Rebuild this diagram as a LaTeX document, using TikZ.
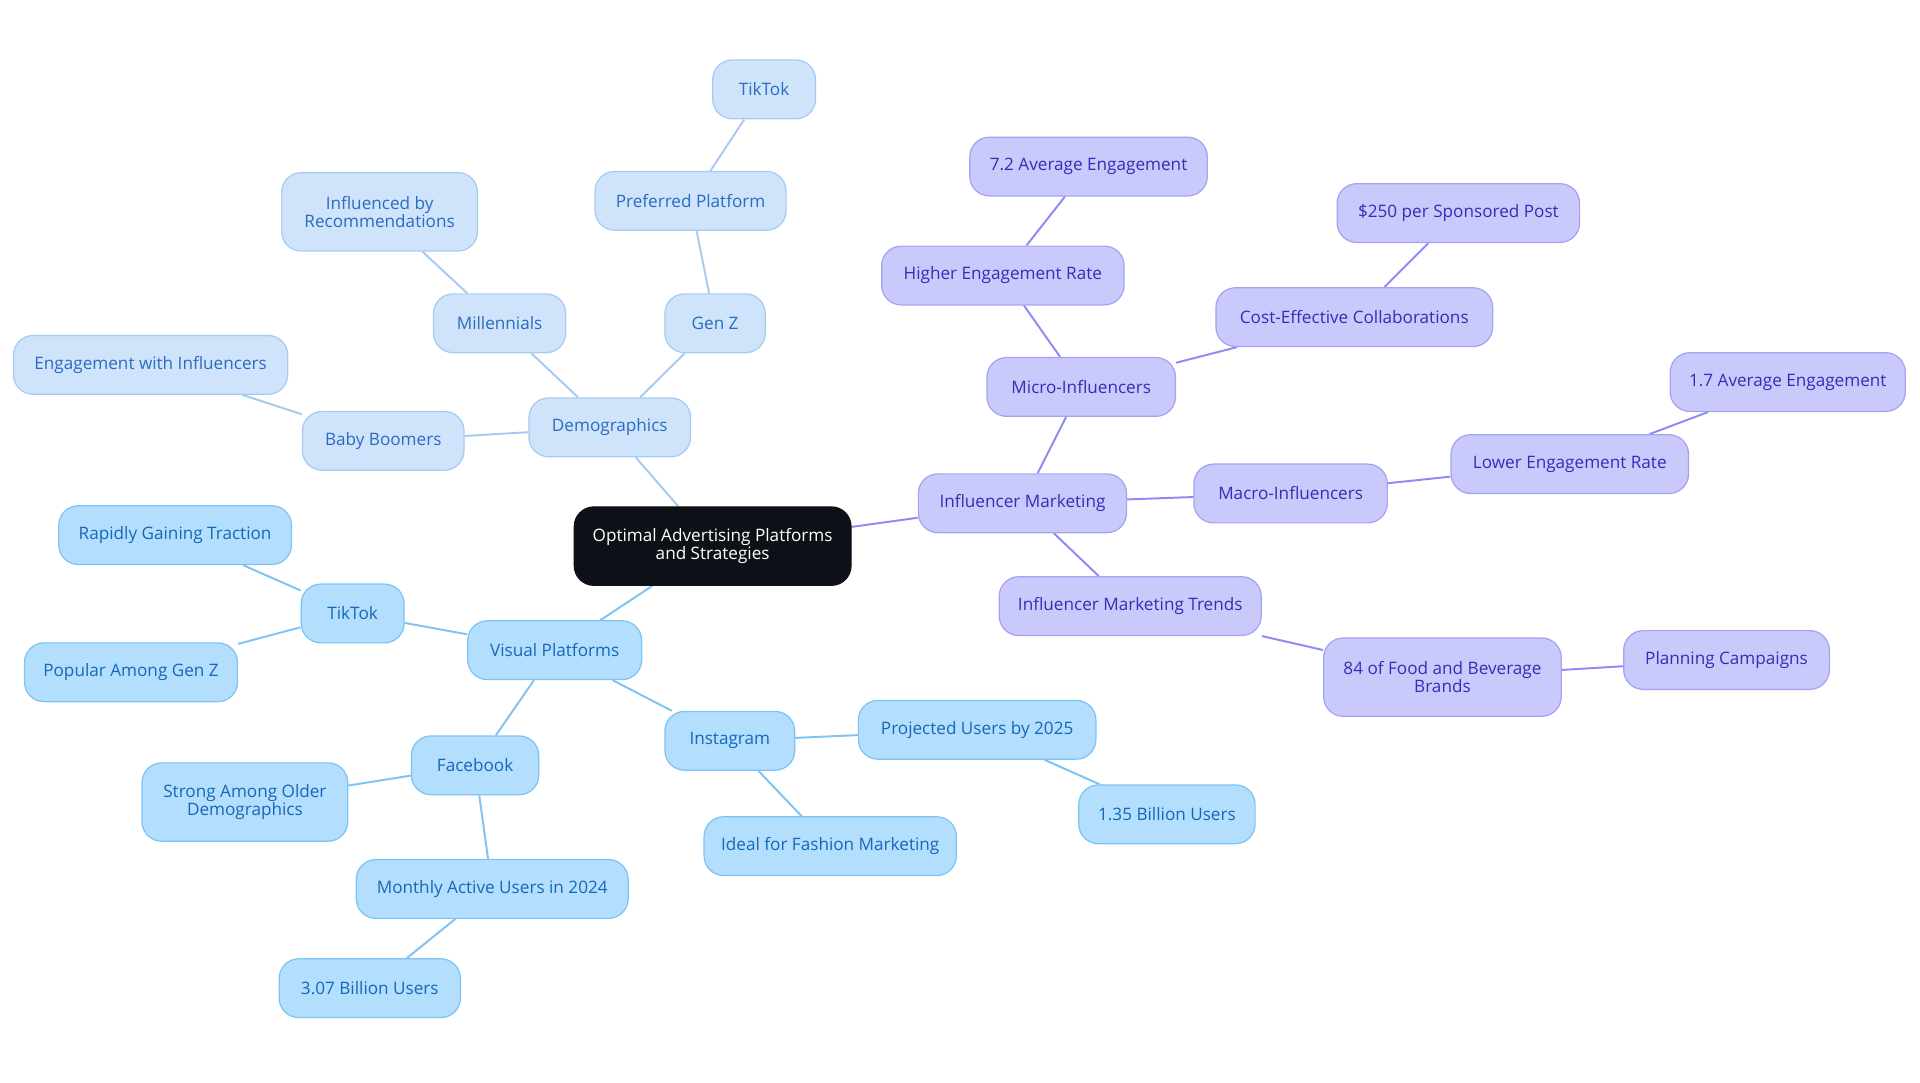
\documentclass[tikz,border=0pt]{standalone}
\usepackage{fontspec}
\setmainfont{Open Sans}
\usetikzlibrary{backgrounds}
\definecolor{bfill}{HTML}{B3DEFD}\definecolor{bdraw}{HTML}{7EC3F3}\definecolor{btext}{HTML}{1668B8}
\definecolor{dfill}{HTML}{CFE3FB}\definecolor{ddraw}{HTML}{A6CBF3}\definecolor{dtext}{HTML}{2A6CC0}
\definecolor{pfill}{HTML}{C9C9FC}\definecolor{pdraw}{HTML}{A6A2F2}\definecolor{ptext}{HTML}{3A2BB5}
\definecolor{cfill}{HTML}{0D1117}
\begin{document}
\begin{tikzpicture}[x=0.5pt,y=-0.5pt,
  base/.style={rounded corners=8pt,line width=0.5pt,align=center,inner sep=0pt,
    font=\fontsize{7}{7.4}\selectfont,minimum height=24pt},
  bn/.style={base,fill=bfill,draw=bdraw,text=btext},
  dn/.style={base,fill=dfill,draw=ddraw,text=dtext},
  pn/.style={base,fill=pfill,draw=pdraw,text=ptext},
  cn/.style={base,fill=cfill,draw=cfill,text=white},
  be/.style={draw=bdraw,line width=0.8pt},
  de/.style={draw=ddraw,line width=0.8pt},
  pe/.style={draw=pdraw!85!blue,line width=0.8pt}]
\useasboundingbox (0,0) rectangle (1568,884);
\node[cn,minimum width=113pt,minimum height=32pt] (c) at (582,446) {Optimal Advertising Platforms\\and Strategies};
\node[dn,minimum width=66pt] (dem) at (498,349) {Demographics};
\node[dn,minimum width=41pt] (genz) at (584,264) {Gen Z};
\node[dn,minimum width=78pt] (pref) at (564,164) {Preferred Platform};
\node[dn,minimum width=42pt] (tt1) at (624,73) {TikTok};
\node[dn,minimum width=54pt] (mill) at (408,264) {Millennials};
\node[dn,minimum width=80pt,minimum height=32pt] (infl) at (310,173) {Influenced by\\Recommendations};
\node[dn,minimum width=66pt] (bb) at (313,360) {Baby Boomers};
\node[dn,minimum width=112pt] (eng) at (123,298) {Engagement with Influencers};
\node[bn,minimum width=71pt] (vis) at (453,531) {Visual Platforms};
\node[bn,minimum width=42pt] (tt2) at (288,501) {TikTok};
\node[bn,minimum width=95pt] (rgt) at (143,437) {Rapidly Gaining Traction};
\node[bn,minimum width=87pt] (pagz) at (107,549) {Popular Among Gen Z};
\node[bn,minimum width=52pt] (fb) at (388,625) {Facebook};
\node[bn,minimum width=84pt,minimum height=32pt] (sao) at (200,655) {Strong Among Older\\Demographics};
\node[bn,minimum width=111pt] (mau) at (402,726) {Monthly Active Users in 2024};
\node[bn,minimum width=74pt] (b307) at (302,807) {3.07 Billion Users};
\node[bn,minimum width=53pt] (ig) at (596,605) {Instagram};
\node[bn,minimum width=97pt] (proj) at (798,596) {Projected Users by 2025};
\node[bn,minimum width=72pt] (b135) at (953,665) {1.35 Billion Users};
\node[bn,minimum width=103pt] (fash) at (678,691) {Ideal for Fashion Marketing};
\node[pn,minimum width=85pt] (im) at (835,411) {Influencer Marketing};
\node[pn,minimum width=77pt] (micro) at (883,316) {Micro-Influencers};
\node[pn,minimum width=99pt] (her) at (819,225) {Higher Engagement Rate};
\node[pn,minimum width=97pt] (e72) at (889,136) {7.2 Average Engagement};
\node[pn,minimum width=113pt] (cec) at (1106,259) {Cost-Effective Collaborations};
\node[pn,minimum width=99pt] (s250) at (1191,174) {\$250 per Sponsored Post};
\node[pn,minimum width=79pt] (macro) at (1054,403) {Macro-Influencers};
\node[pn,minimum width=97pt] (ler) at (1282,379) {Lower Engagement Rate};
\node[pn,minimum width=96pt] (e17) at (1460,312) {1.7 Average Engagement};
\node[pn,minimum width=107pt] (imt) at (923,495) {Influencer Marketing Trends};
\node[pn,minimum width=97pt,minimum height=32pt] (fbb) at (1178,553) {84 of Food and Beverage\\Brands};
\node[pn,minimum width=84pt] (plan) at (1410,539) {Planning Campaigns};
\begin{scope}[on background layer]
\draw[de] (c)--(dem) (dem)--(genz) (genz)--(pref) (pref)--(tt1) (dem)--(mill) (mill)--(infl) (dem)--(bb) (bb)--(eng);
\draw[be] (c)--(vis) (vis)--(tt2) (tt2)--(rgt) (tt2)--(pagz) (vis)--(fb) (fb)--(sao) (fb)--(mau) (mau)--(b307) (vis)--(ig) (ig)--(proj) (proj)--(b135) (ig)--(fash);
\draw[pe] (c)--(im) (im)--(micro) (micro)--(her) (her)--(e72) (micro)--(cec) (cec)--(s250) (im)--(macro) (macro)--(ler) (ler)--(e17) (im)--(imt) (imt)--(fbb) (fbb)--(plan);
\end{scope}
\end{tikzpicture}
\end{document}
